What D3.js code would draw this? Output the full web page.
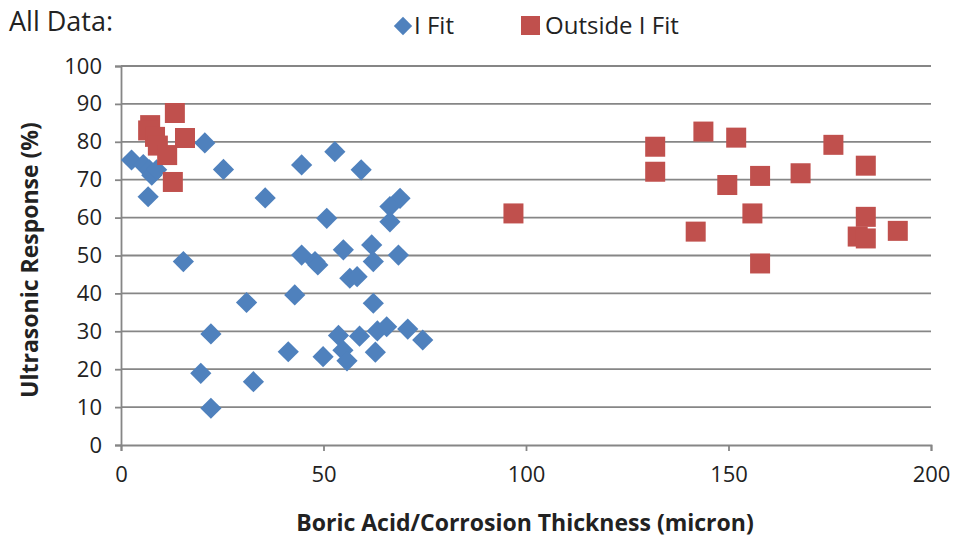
<!DOCTYPE html>
<html><head><meta charset="utf-8">
<script src="https://cdn.jsdelivr.net/npm/d3@7"></script>
<style>body{margin:0;background:#fff}svg{display:block}text{font-family:"Open Sans",Lato,sans-serif}</style>
</head><body><svg id="c" width="956" height="541"></svg>
<script>
const xTicks = [0, 50, 100, 150, 200];
const yTicks = [0, 10, 20, 30, 40, 50, 60, 70, 80, 90, 100];
const fitX = [2.6, 5.5, 7.0, 7.6, 8.8, 6.7, 20.7, 25.3, 15.4, 35.6, 31.0, 22.2, 19.7, 32.7, 22.2,
  44.6, 52.8, 59.3, 50.8, 68.9, 66.4, 66.4, 44.6, 47.9, 48.6, 54.9, 61.9, 62.3, 68.5, 56.5, 58.3,
  42.9, 62.3, 53.7, 58.9, 63.3, 65.6, 70.8, 74.5, 41.3, 49.9, 54.8, 55.8, 62.8];
const fitY = [75.2, 74.0, 72.6, 71.2, 72.6, 65.5, 79.7, 72.7, 48.4, 65.2, 37.6, 29.3, 18.9, 16.7, 9.7,
  73.9, 77.4, 72.6, 59.8, 65.1, 62.9, 58.9, 50.1, 48.4, 47.5, 51.5, 52.8, 48.4, 50.1, 44.0, 44.4,
  39.6, 37.4, 28.9, 28.7, 30.1, 31.2, 30.6, 27.7, 24.6, 23.3, 25.0, 22.2, 24.5];
const outX = [13.3, 7.2, 6.7, 8.4, 15.8, 9.1, 11.4, 12.8, 96.9, 131.9, 131.9, 143.8, 151.9, 149.7,
  157.8, 167.8, 175.9, 183.9, 141.9, 155.9, 157.8, 183.9, 181.9, 183.9, 191.8];
const outY = [87.6, 84.4, 83.0, 81.3, 81.0, 79.0, 76.5, 69.4, 61.1, 78.7, 72.1, 82.7, 81.1, 68.6,
  71.0, 71.7, 79.2, 73.7, 56.3, 61.1, 47.9, 60.2, 55.0, 54.5, 56.5];
const seriesNames = ["I Fit", "Outside I Fit"];
const colors = ["#4F81BD", "#C0504D"];

const svg = d3.select("#c");
const x = d3.scaleLinear().domain([0, 200]).range([121, 931]);
const y = d3.scaleLinear().domain([0, 100]).range([445, 66]);
const grid = "#868686";

// gridlines
svg.append("g").selectAll("line").data(yTicks.filter(d => d > 0)).join("line")
  .attr("x1", x(0)).attr("x2", x(200)).attr("y1", d => y(d)).attr("y2", d => y(d))
  .attr("stroke", grid).attr("stroke-width", 1.8);

// y axis
const ya = svg.append("g").attr("transform", `translate(${x(0)},0)`)
  .call(d3.axisLeft(y).tickValues(yTicks).tickSize(6).tickPadding(13));
ya.select(".domain").attr("stroke", grid).attr("stroke-width", 1.8);
ya.selectAll(".tick line").attr("stroke", grid).attr("stroke-width", 1.8);
ya.selectAll("text").attr("font-size", 22).attr("fill", "#222");

// x axis
const xa = svg.append("g").attr("transform", `translate(0,${y(0)})`)
  .call(d3.axisBottom(x).tickValues(xTicks).tickSize(6).tickPadding(15));
xa.select(".domain").attr("stroke", grid).attr("stroke-width", 1.8);
xa.selectAll(".tick line").attr("stroke", grid).attr("stroke-width", 1.8);
xa.selectAll("text").attr("font-size", 22).attr("fill", "#222");

// points
const fit = fitX.map((v, i) => [v, fitY[i]]);
const out = outX.map((v, i) => [v, outY[i]]);
const ds = 15;
svg.append("g").selectAll("rect").data(fit).join("rect")
  .attr("x", -ds / 2).attr("y", -ds / 2).attr("width", ds).attr("height", ds)
  .attr("transform", d => `translate(${x(d[0])},${y(d[1])}) rotate(45)`)
  .attr("fill", colors[0]);
const ss = 20;
svg.append("g").selectAll("rect").data(out).join("rect")
  .attr("x", d => x(d[0]) - ss / 2).attr("y", d => y(d[1]) - ss / 2)
  .attr("width", ss).attr("height", ss).attr("fill", colors[1]);

// titles
svg.append("text").attr("x", 9).attr("y", 31).attr("font-size", 27).attr("fill", "#222").text("All Data:");
svg.append("text").attr("x", 525).attr("y", 531).attr("text-anchor", "middle")
  .attr("font-size", 23).attr("font-weight", "bold").attr("fill", "#222")
  .text("Boric Acid/Corrosion Thickness (micron)");
svg.append("text").attr("transform", "translate(38,260) rotate(-90)").attr("text-anchor", "middle")
  .attr("font-size", 23).attr("font-weight", "bold").attr("fill", "#222")
  .text("Ultrasonic Response (%)");

// legend
const lg = svg.append("g");
lg.append("rect").attr("x", -6.5).attr("y", -6.5).attr("width", 13).attr("height", 13)
  .attr("transform", "translate(403,26) rotate(45)").attr("fill", colors[0]);
lg.append("text").attr("x", 414).attr("y", 34).attr("font-size", 24).attr("fill", "#222").text(seriesNames[0]);
lg.append("rect").attr("x", 521).attr("y", 16).attr("width", 19).attr("height", 19).attr("fill", colors[1]);
lg.append("text").attr("x", 545).attr("y", 34).attr("font-size", 24).attr("fill", "#222").text(seriesNames[1]);
</script></body></html>
